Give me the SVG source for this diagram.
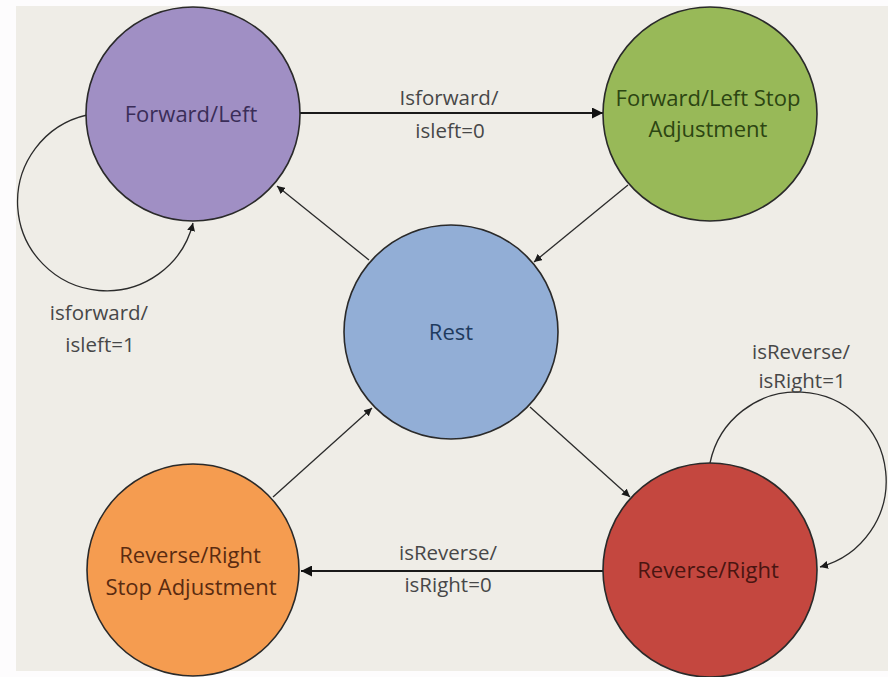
<svg xmlns="http://www.w3.org/2000/svg" width="888" height="677" viewBox="0 0 888 677">
<defs>
<marker id="ah" viewBox="0 0 10 10" refX="10" refY="5" markerWidth="8" markerHeight="8" markerUnits="userSpaceOnUse" orient="auto"><path d="M0,0 L10,5 L0,10 z" fill="#1a1a1a"/></marker>
<marker id="ahBig" viewBox="0 0 10 10" refX="10" refY="5" markerWidth="11" markerHeight="11" markerUnits="userSpaceOnUse" orient="auto"><path d="M0,0 L10,5 L0,10 z" fill="#111"/></marker>
</defs>
<style>
.node{stroke:#2a2a2a;stroke-width:1.6}
.t{font-family:"Open Sans","Noto Sans","Liberation Sans",sans-serif;font-size:22px;font-weight:500;text-anchor:middle}
.lbl{font-family:"Open Sans","Noto Sans","Liberation Sans",sans-serif;font-size:20.5px;font-weight:500;text-anchor:middle;fill:#474747}
.edge{fill:none;stroke:#2b2b2b;stroke-width:1.3}
.edgeH{fill:none;stroke:#1a1a1a;stroke-width:2}
</style>
<rect x="0" y="0" width="888" height="677" fill="#fdfcfd"/>
<rect x="16" y="6" width="872" height="665" fill="#efede7"/>
<g id="connectors">
<line class="edgeH" x1="300" y1="113" x2="603" y2="113" marker-end="url(#ahBig)"/>
<line class="edgeH" x1="603" y1="571" x2="301" y2="571" marker-end="url(#ahBig)"/>
<line class="edge" x1="369" y1="260" x2="277" y2="186" marker-end="url(#ah)"/>
<line class="edge" x1="628" y1="185" x2="534" y2="262" marker-end="url(#ah)"/>
<line class="edge" x1="530" y1="407" x2="630" y2="497" marker-end="url(#ah)"/>
<line class="edge" x1="273" y1="497" x2="372" y2="408" marker-end="url(#ah)"/>
<path class="edge" d="M87,115 A89,89 0 1 0 193,223" marker-end="url(#ah)"/>
<path class="edge" d="M710,463 A89,89 0 1 1 820,567" marker-end="url(#ah)"/>
<text class="lbl" x="449" y="105">Isforward/</text>
<text class="lbl" x="450" y="138">isleft=0</text>
<text class="lbl" x="99" y="320">isforward/</text>
<text class="lbl" x="100" y="352">isleft=1</text>
<text class="lbl" x="801" y="359">isReverse/</text>
<text class="lbl" x="802" y="388">isRight=1</text>
<text class="lbl" x="448" y="560">isReverse/</text>
<text class="lbl" x="448" y="592">isRight=0</text>
</g>
<g id="forward-left">
<circle class="node" cx="193" cy="114" r="107" fill="#a08fc4"/>
<text class="t" x="191" y="122" fill="#3a2d58">Forward/Left</text>
</g>
<g id="forward-left-stop">
<circle class="node" cx="710" cy="114" r="107" fill="#98b958"/>
<text class="t" x="708" y="106" fill="#2c4512">Forward/Left Stop</text>
<text class="t" x="708" y="137" fill="#2c4512">Adjustment</text>
</g>
<g id="rest">
<circle class="node" cx="451" cy="332" r="107" fill="#92aed6"/>
<text class="t" x="451" y="340" fill="#1f3b5e">Rest</text>
</g>
<g id="reverse-right">
<circle class="node" cx="710" cy="570" r="107" fill="#c4473f"/>
<text class="t" x="708" y="578" fill="#4a1511">Reverse/Right</text>
</g>
<g id="reverse-right-stop">
<circle class="node" cx="193" cy="570" r="106" fill="#f59c50"/>
<text class="t" x="190" y="563" fill="#5a2b10">Reverse/Right</text>
<text class="t" x="191" y="595" fill="#5a2b10">Stop Adjustment</text>
</g>
</svg>
